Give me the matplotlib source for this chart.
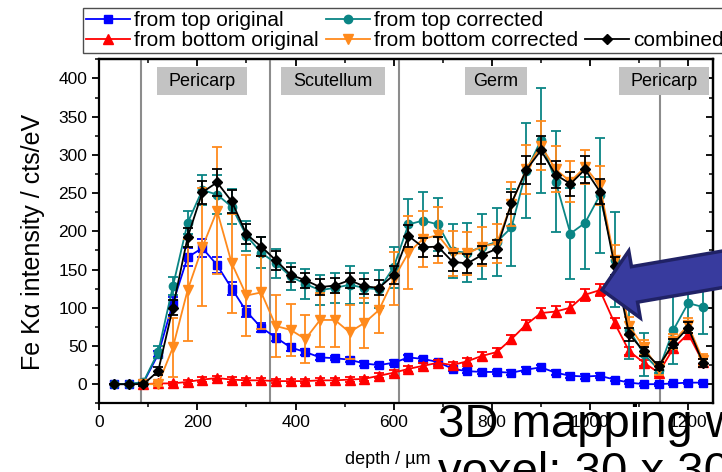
import numpy as np
import matplotlib
matplotlib.use('Agg')
import matplotlib.pyplot as plt
from matplotlib.lines import Line2D
from matplotlib.patches import Rectangle, Polygon

plt.rcParams['font.family'] = ['Liberation Sans', 'DejaVu Sans']

# depth grid (um)
depth = [30, 60, 90, 120, 150, 180, 210, 240, 270, 300, 330, 360, 390, 420,
         450, 480, 510, 540, 570, 600, 630, 660, 690, 720, 750, 780, 810, 840,
         870, 900, 930, 960, 990, 1020, 1050, 1080, 1110, 1140, 1170, 1200, 1230]
depth_bot = depth[2:]

top_orig = [0, 0, 2, 39, 106, 166, 178, 156, 125, 95, 74, 61, 48, 42,
            35, 34, 32, 27, 25, 28, 35, 33, 29, 20, 17, 16, 16, 15,
            19, 22, 15, 11, 10, 11, 6, 2, 0, 0, 1, 2, 2]
top_orig_err = [0, 0, 1, 4, 8, 12, 12, 11, 9, 7, 6, 5, 4, 4,
                3, 3, 3, 3, 3, 3, 3, 3, 3, 3, 3, 3, 3, 3,
                3, 3, 3, 3, 3, 3, 2, 2, 2, 2, 2, 2, 2]

top_corr = [0, 0, 3, 42, 128, 211, 254, 248, 232, 194, 172, 158, 141, 131,
            123, 126, 130, 126, 124, 153, 209, 214, 209, 174, 172, 180, 186, 205,
            279, 319, 265, 197, 211, 247, 163, 71, 39, 19, 71, 106, 101]
top_corr_err = [0, 0, 3, 8, 12, 15, 20, 25, 23, 20, 20, 19, 18, 20,
                20, 20, 25, 20, 25, 27, 33, 37, 35, 35, 39, 42, 45, 50,
                62, 69, 66, 60, 60, 75, 62, 38, 28, 5, 45, 35, 35]

bot_orig = [0, 1, 1, 3, 6, 8, 6, 5, 5, 4, 4, 4, 5, 5,
            6, 7, 11, 15, 20, 24, 28, 25, 30, 37, 42, 59, 78, 93,
            95, 100, 117, 123, 80, 43, 28, 15, 47, 66, 29]
bot_orig_err = [1, 2, 2, 3, 3, 3, 3, 3, 3, 3, 3, 3, 3, 3,
                3, 3, 3, 4, 4, 4, 4, 4, 4, 5, 5, 5, 6, 7,
                7, 7, 8, 8, 6, 5, 4, 4, 5, 5, 4]

bot_corr = [0, 0, 48, 123, 179, 227, 158, 116, 120, 76, 71, 59, 84, 84,
            68, 80, 97, 138, 172, 190, 195, 171, 171, 180, 184, 236, 281, 312,
            281, 265, 284, 260, 162, 76, 48, 20, 56, 77, 32]
bot_corr_err = [0, 3, 39, 67, 77, 83, 65, 53, 48, 40, 34, 31, 35, 35,
                35, 33, 30, 35, 48, 37, 37, 30, 28, 25, 25, 29, 32, 32,
                30, 27, 22, 25, 20, 12, 10, 8, 10, 10, 8]

combined = [0, 0, 0, 17, 100, 192, 251, 264, 239, 196, 180, 162, 143, 136,
            127, 129, 136, 128, 126, 143, 194, 179, 180, 160, 158, 169, 177, 237,
            280, 306, 274, 262, 281, 252, 155, 65, 43, 24, 53, 74, 28]
combined_err = [0, 0, 2, 5, 10, 12, 15, 18, 15, 13, 12, 12, 10, 10,
                10, 10, 10, 10, 10, 12, 14, 12, 12, 12, 12, 12, 12, 15,
                18, 18, 18, 16, 18, 16, 12, 8, 6, 5, 6, 7, 5]

# tissue boundaries and labels
bounds = [85, 348, 611, 1143]
regions = ['Pericarp', 'Scutellum', 'Germ', 'Pericarp']
region_x = [210, 476, 808, 1151]
region_w = [183, 212, 126, 183]

fig = plt.figure(figsize=(7.22, 4.72), dpi=100)
ax = fig.add_axes([0.1375, 0.1456, 0.8496, 0.7288])

series = [
    (depth, top_orig, top_orig_err, '#0000FF', 's', 5.5, 'from top original'),
    (depth_bot, bot_orig, bot_orig_err, '#FF0000', '^', 6.5, 'from bottom original'),
    (depth, top_corr, top_corr_err, '#0A8585', 'o', 6.0, 'from top corrected'),
    (depth_bot, bot_corr, bot_corr_err, '#FF8A1C', 'v', 7.0, 'from bottom corrected'),
    (depth, combined, combined_err, '#000000', 'D', 5.5, 'combined'),
]
for i, (x, y, e, c, m, ms, lab) in enumerate(series):
    ax.errorbar(x, y, yerr=e, color=c, marker=m, ms=ms, lw=1.3,
                elinewidth=1.3, capsize=3.5, capthick=1.3, zorder=3 + i)

for b in bounds:
    ax.axvline(b, color='#8C8C8C', lw=1.5, zorder=2)

for name, cx, w in zip(regions, region_x, region_w):
    ax.add_patch(Rectangle((cx - w / 2, 378), w, 36.5, facecolor='#C3C3C3',
                           edgecolor='none', zorder=2))
    ax.text(cx, 396, name, ha='center', va='center', fontsize=13, zorder=3)

ax.set_xlim(0, 1250)
ax.set_ylim(-24, 425)
ax.set_xticks(range(0, 1201, 200))
ax.set_xticks(range(100, 1250, 200), minor=True)
ax.set_yticks(range(0, 401, 50))
ax.set_yticks(range(-25, 426, 50), minor=True)
ax.tick_params(which='major', direction='out', length=5, width=1.3, labelsize=12.5)
ax.tick_params(which='minor', direction='out', length=3, width=1.1)
for s in ax.spines.values():
    s.set_linewidth(1.6)

# mirrored axes with inward ticks
sx = ax.secondary_xaxis('top')
sy = ax.secondary_yaxis('right')
sx.set_xticks(range(0, 1201, 200))
sx.set_xticks(range(100, 1250, 200), minor=True)
sx.set_xticklabels([])
sy.set_yticks(range(0, 401, 50))
sy.set_yticks(range(-25, 426, 50), minor=True)
sy.set_yticklabels([])
for sec in (sx, sy):
    sec.tick_params(which='major', direction='in', length=5, width=1.3)
    sec.tick_params(which='minor', direction='in', length=3, width=1.1)
    for s in sec.spines.values():
        s.set_linewidth(1.6)

fig.text(33 / 722, 1 - 242 / 472, 'Fe Kα intensity / cts/eV', rotation=90,
         ha='center', va='center', fontsize=18)
fig.text(388 / 722, 1 - 459 / 472, 'depth / µm', ha='center', va='center',
         fontsize=13)

# legend: third column only holds "combined" in the second row
blank = Line2D([], [], color='none')
h = {lab: Line2D([], [], color=c, marker=m, ms=ms, lw=1.3)
     for (_, _, _, c, m, ms, lab) in series}
handles = [h['from top original'], h['from bottom original'],
           h['from top corrected'], h['from bottom corrected'],
           blank, h['combined']]
labels = ['from top original', 'from bottom original',
          'from top corrected', 'from bottom corrected', '', 'combined']
leg = fig.legend(handles, labels, ncol=3, loc='upper left',
                 bbox_to_anchor=(83 / 722, 1 - 8 / 472), fontsize=15,
                 frameon=True, fancybox=False, handlelength=2.1,
                 handletextpad=0.2, columnspacing=0.35, labelspacing=0.05,
                 borderpad=0.15, borderaxespad=0)
leg.get_frame().set_edgecolor('#222222')
leg.get_frame().set_linewidth(1.0)

# arrow pointing at the bottom-side peak
tip = np.array([602.0, 290.0])
u = np.array([0.9855, -0.1694])
n = np.array([0.1694, 0.9855])
pts = [tip, tip + 33 * u + 34 * n, tip + 33 * u + 18 * n, tip + 220 * u + 18 * n,
       tip + 220 * u - 18 * n, tip + 33 * u - 18 * n, tip + 33 * u - 34 * n]
pts = [(p[0] / 722, 1 - p[1] / 472) for p in pts]
fig.add_artist(Polygon(pts, closed=True, transform=fig.transFigure,
                       facecolor='#383B9E', edgecolor='#202266', lw=2.5,
                       joinstyle='miter', zorder=10))

fig.text(438 / 722, 1 - 437 / 472, '3D mapping with', fontsize=34,
         ha='left', va='baseline', zorder=11)
fig.text(438 / 722, 1 - 485 / 472, 'voxel: 30 x 30', fontsize=34,
         ha='left', va='baseline', zorder=11)

fig.savefig('out.png', dpi=100)
